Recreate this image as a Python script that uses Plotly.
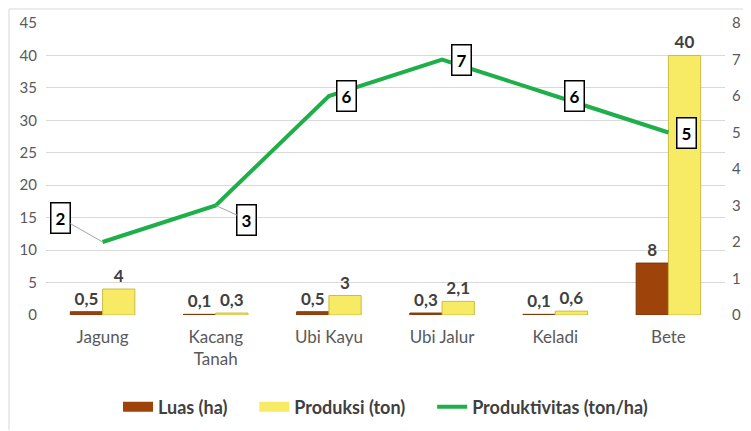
import plotly.graph_objects as go

categories = ["Jagung", "Kacang<br>Tanah", "Ubi Kayu", "Ubi Jalur", "Keladi", "Bete"]
luas = [0.5, 0.1, 0.5, 0.3, 0.1, 8]
produksi = [4, 0.3, 3, 2.1, 0.6, 40]
produktivitas = [2, 3, 6, 7, 6, 5]
left_ticks = [0, 5, 10, 15, 20, 25, 30, 35, 40, 45]
right_ticks = [0, 1, 2, 3, 4, 5, 6, 7, 8]

# label offsets (pixels) for the productivity labels
label_dx = [-42, 31, 18, 19, 19, 18]
label_dy = [-24, 14, 0, 0, 0, 0]

def fmt(v):
    return f"{v:g}".replace(".", ",")

FONT = "Lato, 'Open Sans', sans-serif"
LABEL_COLOR = "#404040"
BROWN = "#9E4309"
YELLOW = "#F7EA64"
GREEN = "#1EAF4A"
NB = "\u00a0"

fig = go.Figure()
fig.add_trace(go.Bar(
    x=categories, y=luas, name="Luas (ha)", showlegend=False, legendgroup="l",
    marker=dict(color=BROWN, line=dict(color="#7A3608", width=1)),
    text=[fmt(v) for v in luas], textposition="outside",
    textfont=dict(family=FONT, size=17, color=LABEL_COLOR, weight="bold"),
    cliponaxis=False,
))
fig.add_trace(go.Bar(
    x=categories, y=produksi, name="Produksi (ton)", showlegend=False, legendgroup="p",
    marker=dict(color=YELLOW, line=dict(color="#CDBB45", width=1)),
    text=[fmt(v) for v in produksi], textposition="outside",
    textfont=dict(family=FONT, size=17, color=LABEL_COLOR, weight="bold"),
    cliponaxis=False,
))
fig.add_trace(go.Scatter(
    x=categories, y=produktivitas, name="Produktivitas (ton/ha)", showlegend=False,
    legendgroup="t", yaxis="y2", mode="lines",
    line=dict(color=GREEN, width=4),
))
# legend entries (wide swatches like the original)
fig.add_trace(go.Scatter(x=[None], y=[None], mode="lines", name="Luas (ha)" + NB * 5,
                         legendgroup="l", line=dict(color=BROWN, width=10)))
fig.add_trace(go.Scatter(x=[None], y=[None], mode="lines", name="Produksi (ton)" + NB * 5,
                         legendgroup="p", line=dict(color=YELLOW, width=10)))
fig.add_trace(go.Scatter(x=[None], y=[None], mode="lines", name="Produktivitas (ton/ha)",
                         legendgroup="t", line=dict(color=GREEN, width=4)))

annotations = []
for c, v, dx, dy in zip(categories, produktivitas, label_dx, label_dy):
    leader = abs(dx) > 25
    annotations.append(dict(
        x=c, y=v, xref="x", yref="y2",
        text=f"<b>{fmt(v)}</b>",
        showarrow=True, arrowhead=0, arrowwidth=1,
        arrowcolor="#A6A6A6" if leader else "rgba(0,0,0,0)",
        ax=dx, ay=dy, standoff=0,
        font=dict(family=FONT, size=17, color="#000000"),
        bgcolor="white", bordercolor="#000000", borderwidth=1.5, borderpad=4,
    ))

fig.update_layout(
    width=743, height=423,
    margin=dict(l=38, r=26, t=15, b=116, autoexpand=False),
    paper_bgcolor="white", plot_bgcolor="white",
    barmode="group", bargap=0.43, bargroupgap=0,
    font=dict(family=FONT, color="#595959"),
    showlegend=True,
    legend=dict(orientation="h", x=0.5, xanchor="center", y=-0.315, yanchor="middle",
                font=dict(family=FONT, size=18, color=LABEL_COLOR, weight="bold"),
                itemwidth=30, traceorder="normal"),
    xaxis=dict(showgrid=False, showline=False, ticks="", automargin=False,
               tickfont=dict(family=FONT, size=17, color="#595959"),
               ticklabelstandoff=10),
    yaxis=dict(range=[0, 45], tickvals=left_ticks, showgrid=True, gridcolor="#D9D9D9",
               gridwidth=1, zeroline=False, showline=False, automargin=False,
               tickfont=dict(family=FONT, size=15, color="#595959"),
               ticklabelstandoff=8),
    yaxis2=dict(range=[0, 8], tickvals=right_ticks, overlaying="y", side="right",
                showgrid=False, zeroline=False, showline=False, automargin=False,
                tickfont=dict(family=FONT, size=15, color="#595959"),
                ticklabelstandoff=6),
    annotations=annotations,
    shapes=[
        dict(type="line", xref="paper", yref="paper", x0=-0.0545, x1=1.037, y0=1.048, y1=1.048,
             line=dict(color="#D9D9D9", width=1), layer="below"),
        dict(type="line", xref="paper", yref="paper", x0=-0.0545, x1=-0.0545, y0=-0.394, y1=1.048,
             line=dict(color="#D9D9D9", width=1), layer="below"),
    ],
)

fig.write_html("out.html")
